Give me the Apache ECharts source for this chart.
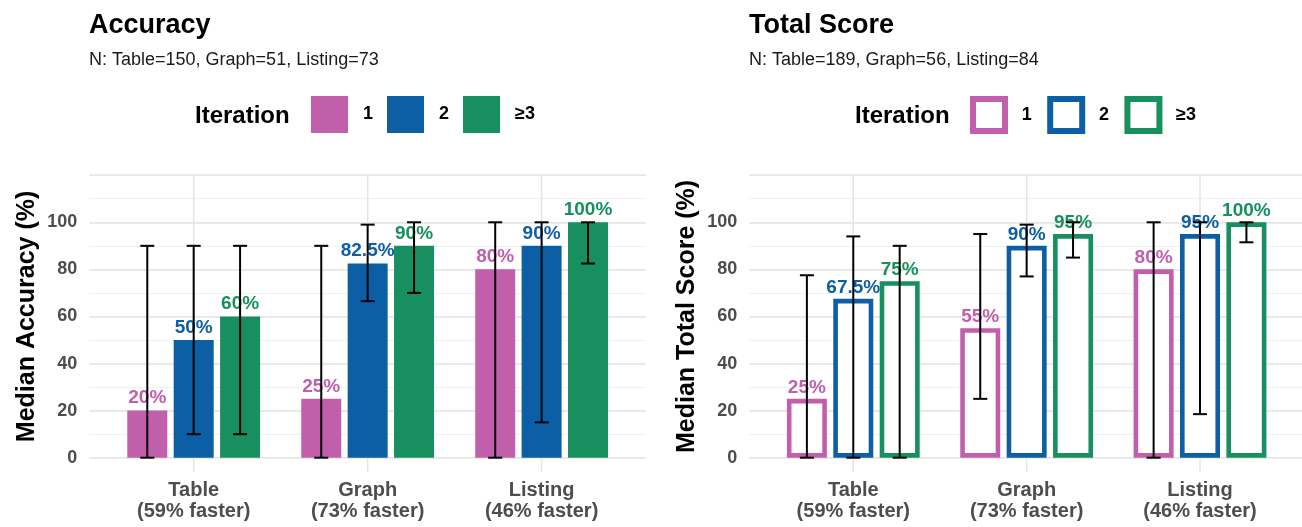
<!DOCTYPE html>
<html>
<head>
<meta charset="utf-8">
<script src="https://cdn.jsdelivr.net/npm/echarts@6/dist/echarts.min.js"></script>
<style>
  html, body { margin: 0; padding: 0; background: #fff; }
  #chart { width: 1302px; height: 527px; }
</style>
</head>
<body>
<div id="chart"></div>
<script>
// Categories and per-category speed-up notes
const CATEGORIES = ['Table', 'Graph', 'Listing'];
const SPEEDUP = ['59%', '73%', '46%'];
const ITERATIONS = ['1', '2', '≥3'];
const Y_TICKS = [0, 20, 40, 60, 80, 100];

// Sample sizes per category
const ACC_N = [150, 51, 73];
const SCORE_N = [189, 56, 84];

// Median accuracy (%) per iteration, ordered Table, Graph, Listing
const accMedian1 = [20, 25, 80];
const accMedian2 = [50, 82.5, 90];
const accMedian3 = [60, 90, 100];
// Accuracy interval bounds
const accLow1 = [0, 0, 0];
const accHigh1 = [90, 90, 100];
const accLow2 = [10, 66.5, 15];
const accHigh2 = [90, 99, 100];
const accLow3 = [10, 70, 82.5];
const accHigh3 = [90, 100, 100];

// Median total score (%) per iteration
const scoreMedian1 = [25, 55, 80];
const scoreMedian2 = [67.5, 90, 95];
const scoreMedian3 = [75, 95, 100];
// Total score interval bounds
const scoreLow1 = [0, 25, 0];
const scoreHigh1 = [77.5, 95, 100];
const scoreLow2 = [0, 77, 18.5];
const scoreHigh2 = [94, 99, 100];
const scoreLow3 = [0, 85, 91.5];
const scoreHigh3 = [90, 100, 100];

// Styling
const COLORS = ['#c25fab', '#0d5fa5', '#178f5e'];
const FONT = "'Liberation Sans', Arial, Helvetica, sans-serif";
const BAR_W = 40;
const BAR_GAP = 6.4;
const SLOT = BAR_W + BAR_GAP;
const CAP = 7;
const Y_MAX = 120;
const GRID_TOP = 175.2;
const GRID_BOTTOM = 69.3;
const GRID_MAJOR = '#e5e5e5';
const GRID_MINOR = '#f0f0f0';

const xLabels = CATEGORIES.map((c, i) => c + '\n(' + SPEEDUP[i] + ' faster)');
const subtitle = n => 'N: ' + CATEGORIES.map((c, i) => c + '=' + n[i]).join(', ');

function panelAxes(wideGrid, narrowGrid, yName) {
  const xAxes = [
    { gridIndex: wideGrid, type: 'value', min: 0, max: 1, show: false },
    {
      gridIndex: narrowGrid, type: 'category', data: xLabels,
      axisLine: { show: false }, axisTick: { show: false }, splitLine: { show: false },
      axisLabel: {
        margin: 22, fontFamily: FONT, fontSize: 20, fontWeight: 'bold',
        color: '#4d4d4d', lineHeight: 21
      }
    }
  ];
  const yAxes = [
    {
      gridIndex: wideGrid, type: 'value', position: 'left', min: 0, max: Y_MAX, interval: 10,
      axisLine: { show: false }, axisTick: { show: false }, axisLabel: { show: false },
      splitLine: { lineStyle: { color: GRID_MINOR, width: 1 } }
    },
    {
      gridIndex: wideGrid, type: 'value', position: 'left', min: 0, max: Y_MAX, interval: 20,
      name: yName, nameLocation: 'middle', nameGap: 50,
      nameTextStyle: { fontFamily: FONT, fontSize: 25, fontWeight: 'bold', color: '#000' },
      axisLine: { show: false }, axisTick: { show: false },
      axisLabel: {
        margin: 12, fontFamily: FONT, fontSize: 18, fontWeight: 'bold', color: '#4d4d4d',
        formatter: v => (Y_TICKS.includes(v) ? String(v) : '')
      },
      splitLine: { lineStyle: { color: GRID_MAJOR, width: 1.5 } }
    },
    { gridIndex: narrowGrid, type: 'value', position: 'left', min: 0, max: Y_MAX, interval: 20, show: false }
  ];
  return { xAxes, yAxes };
}

// Vertical grid lines at category centres, running a little below zero
function vGridSeries(xIdx, yIdx) {
  return {
    type: 'custom', xAxisIndex: xIdx, yAxisIndex: yIdx, silent: true, z: 0, clip: false,
    data: CATEGORIES.map((c, i) => [i, 0]),
    encode: { x: 0, y: 1 },
    renderItem: (params, api) => {
      const top = api.coord([api.value(0), Y_MAX]);
      const bot = api.coord([api.value(0), 0]);
      return {
        type: 'line',
        shape: { x1: top[0], y1: top[1], x2: bot[0], y2: bot[1] + 14.5 },
        style: { stroke: GRID_MAJOR, lineWidth: 1.5 }
      };
    }
  };
}

function barSeries(xIdx, yIdx, medians, outlined, distance) {
  return medians.map((vals, i) => ({
    type: 'bar', name: ITERATIONS[i], xAxisIndex: xIdx, yAxisIndex: yIdx,
    data: vals, barWidth: BAR_W, barGap: (BAR_GAP / BAR_W * 100) + '%', z: 2,
    itemStyle: outlined
      ? { color: '#fff', borderColor: COLORS[i], borderWidth: 4.6 }
      : { color: COLORS[i] },
    label: {
      show: true, position: 'top', distance: distance, formatter: '{c}%',
      color: COLORS[i], fontFamily: FONT, fontSize: 19, fontWeight: 'bold'
    },
    emphasis: { disabled: true }
  }));
}

function errorSeries(xIdx, yIdx, lows, highs) {
  const data = [];
  lows.forEach((arr, it) => arr.forEach((lo, ci) => data.push([ci, lo, highs[it][ci], it])));
  return {
    type: 'custom', xAxisIndex: xIdx, yAxisIndex: yIdx, silent: true, z: 4,
    data, encode: { x: 0, y: [1, 2] },
    renderItem: (params, api) => {
      const ci = api.value(0);
      const it = api.value(3);
      const x = api.coord([ci, 0])[0] + (it - 1) * SLOT;
      const yLo = api.coord([ci, api.value(1)])[1];
      const yHi = api.coord([ci, api.value(2)])[1];
      const style = { stroke: '#000', lineWidth: 2 };
      return {
        type: 'group', children: [
          { type: 'line', shape: { x1: x, y1: yLo, x2: x, y2: yHi }, style },
          { type: 'line', shape: { x1: x - CAP, y1: yLo, x2: x + CAP, y2: yLo }, style },
          { type: 'line', shape: { x1: x - CAP, y1: yHi, x2: x + CAP, y2: yHi }, style }
        ]
      };
    }
  };
}

const left = panelAxes(0, 1, 'Median Accuracy (%)');
const right = panelAxes(2, 3, 'Median Total Score (%)');

const legendText = pad => ({
  fontFamily: FONT, fontSize: 18, fontWeight: 'bold', color: '#000', padding: [10, 0, 0, pad]
});

const gridBox = (l, r) => ({
  left: l, right: r, top: GRID_TOP, bottom: GRID_BOTTOM, outerBoundsMode: 'none'
});

const option = {
  animation: false,
  backgroundColor: '#fff',
  title: [
    { text: 'Accuracy', left: 89, top: 12, padding: 0,
      textStyle: { fontFamily: FONT, fontSize: 27, fontWeight: 'bold', color: '#000' } },
    { text: subtitle(ACC_N), left: 89, top: 51, padding: 0,
      textStyle: { fontFamily: FONT, fontSize: 18, fontWeight: 'normal', color: '#1a1a1a' } },
    { text: 'Iteration', left: 195, top: 104, padding: 0,
      textStyle: { fontFamily: FONT, fontSize: 24, fontWeight: 'bold', color: '#000' } },
    { text: 'Total Score', left: 749, top: 12, padding: 0,
      textStyle: { fontFamily: FONT, fontSize: 27, fontWeight: 'bold', color: '#000' } },
    { text: subtitle(SCORE_N), left: 749, top: 51, padding: 0,
      textStyle: { fontFamily: FONT, fontSize: 18, fontWeight: 'normal', color: '#1a1a1a' } },
    { text: 'Iteration', left: 855, top: 104, padding: 0,
      textStyle: { fontFamily: FONT, fontSize: 24, fontWeight: 'bold', color: '#000' } }
  ],
  legend: [
    {
      left: 311, top: 96, padding: 0, itemWidth: 37, itemHeight: 37, itemGap: 14,
      icon: 'rect', selectedMode: false, textStyle: legendText(10),
      data: ITERATIONS.map((n, i) => ({ name: n, itemStyle: { color: COLORS[i], borderWidth: 0 } }))
    },
    {
      left: 970, top: 96, padding: 0, itemWidth: 32, itemHeight: 32, itemGap: 15.5,
      icon: 'rect', selectedMode: false, textStyle: legendText(11.7),
      data: ITERATIONS.map((n, i) => ({
        name: n, itemStyle: { color: '#fff', borderColor: COLORS[i], borderWidth: 6 }
      }))
    }
  ],
  grid: [
    gridBox(89.3, 656),
    gridBox(106.7, 673.4),
    gridBox(749.3, -2),
    gridBox(766.6, 15.3)
  ],
  xAxis: [...left.xAxes, ...right.xAxes],
  yAxis: [...left.yAxes, ...right.yAxes],
  series: [
    vGridSeries(1, 2),
    ...barSeries(1, 2, [accMedian1, accMedian2, accMedian3], false, 3),
    errorSeries(1, 2, [accLow1, accLow2, accLow3], [accHigh1, accHigh2, accHigh3]),
    vGridSeries(3, 5),
    ...barSeries(3, 5, [scoreMedian1, scoreMedian2, scoreMedian3], true, 2),
    errorSeries(3, 5, [scoreLow1, scoreLow2, scoreLow3], [scoreHigh1, scoreHigh2, scoreHigh3])
  ]
};

const chart = echarts.init(document.getElementById('chart'), null, { renderer: 'canvas' });
chart.setOption(option);
</script>
</body>
</html>
